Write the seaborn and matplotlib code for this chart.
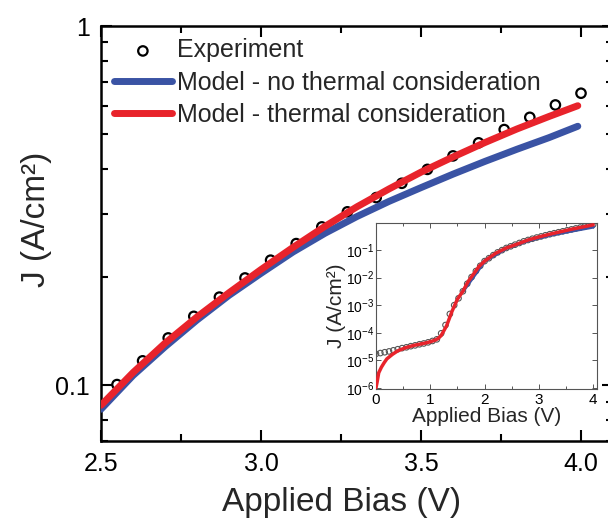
import numpy as np
import pandas as pd
import matplotlib
matplotlib.use('Agg')
import matplotlib.pyplot as plt
import seaborn as sns
from matplotlib.ticker import MultipleLocator, LogLocator, NullFormatter, FixedLocator, FixedFormatter

# main panel: measured points (every 0.08 V)
exp_v = [2.55, 2.63, 2.71, 2.79, 2.87, 2.95, 3.03, 3.11, 3.19, 3.27,
         3.36, 3.44, 3.52, 3.60, 3.68, 3.76, 3.84, 3.92, 4.00]
exp_j = [0.1005, 0.117, 0.1355, 0.1556, 0.176, 0.199, 0.223, 0.248, 0.276, 0.304,
         0.333, 0.365, 0.399, 0.435, 0.473, 0.515, 0.557, 0.603, 0.650]

# main panel: model curves
model_v = [2.5, 2.6, 2.7, 2.8, 2.9, 3.0, 3.1, 3.2, 3.3, 3.4, 3.5, 3.6, 3.7, 3.8, 3.9, 3.99]
model_thermal = [0.088, 0.1085, 0.131, 0.155, 0.181, 0.210, 0.242, 0.277, 0.314, 0.352,
                 0.392, 0.432, 0.474, 0.517, 0.560, 0.600]
model_nothermal = [0.0858, 0.1065, 0.128, 0.152, 0.178, 0.205, 0.235, 0.265, 0.295, 0.325,
                   0.355, 0.387, 0.420, 0.454, 0.489, 0.526]

# inset: full range measurement
inset_exp_v = [0.00, 0.08, 0.16, 0.24, 0.32, 0.40, 0.48, 0.56, 0.64, 0.72,
               0.80, 0.88, 0.96, 1.04, 1.12, 1.20, 1.28, 1.36, 1.44, 1.52,
               1.60, 1.68, 1.76, 1.84, 1.92, 2.00, 2.08, 2.16, 2.24, 2.32,
               2.40, 2.48, 2.56, 2.64, 2.72, 2.80, 2.88, 2.96, 3.04, 3.12,
               3.20, 3.28, 3.36, 3.44, 3.52, 3.60, 3.68, 3.76, 3.84, 3.92, 4.00]
inset_exp_j = [1.70e-5, 1.82e-5, 1.95e-5, 2.09e-5, 2.29e-5, 2.51e-5, 2.75e-5, 2.95e-5, 3.24e-5, 3.47e-5,
               3.80e-5, 4.07e-5, 4.47e-5, 5.01e-5, 5.75e-5, 9.5e-5, 1.9e-4, 4.8e-4, 1.0e-3, 1.78e-3,
               3.2e-3, 6.0e-3, 1.05e-2, 1.74e-2, 2.7e-2, 4.0e-2, 5.1e-2, 6.6e-2, 8.3e-2, 0.100,
               0.120, 0.138, 0.158, 0.182, 0.209, 0.234, 0.260, 0.288, 0.316, 0.347,
               0.380, 0.412, 0.447, 0.484, 0.525, 0.569, 0.617, 0.661, 0.716, 0.776, 0.851]

inset_red_v = [0.0, 0.02, 0.05, 0.1, 0.15, 0.2, 0.3, 0.4, 0.55, 0.7, 0.9, 1.0, 1.1, 1.15,
               1.2, 1.3, 1.4, 1.5, 1.6, 1.7, 1.8, 1.9, 2.0, 2.2, 2.4, 2.6, 2.8, 3.0, 3.2,
               3.4, 3.6, 3.8, 4.0]
inset_red_j = [1.0e-6, 1.6e-6, 3.5e-6, 5.6e-6, 8.1e-6, 1.12e-5, 1.62e-5, 2.19e-5, 2.88e-5, 3.47e-5,
               4.17e-5, 4.68e-5, 5.5e-5, 6.3e-5, 7.9e-5, 1.78e-4, 6.0e-4, 1.66e-3, 3.2e-3, 7.4e-3,
               1.38e-2, 2.6e-2, 4.0e-2, 7.6e-2, 0.120, 0.166, 0.234, 0.302, 0.380, 0.468,
               0.575, 0.692, 0.832]

inset_blue_v = [1.6, 2.0, 2.4, 2.8, 3.2, 3.6, 4.0]
inset_blue_j = [3.2e-3, 4.0e-2, 0.118, 0.225, 0.352, 0.50, 0.70]

blue = '#3a53a4'
red = '#e8232b'

sns.set_style('ticks')
plt.rcParams['font.family'] = ['Liberation Sans', 'DejaVu Sans']
plt.rcParams['mathtext.default'] = 'regular'

fig = plt.figure(figsize=(6.08, 5.22), dpi=100)
ax = fig.add_axes([101/608, 81/522, 512/608, 415/522])

sns.scatterplot(x=exp_v, y=exp_j, ax=ax, marker='o', s=46, facecolor='none',
                edgecolor='black', linewidth=1.6, label='Experiment', zorder=2)
sns.lineplot(x=model_v, y=model_nothermal, ax=ax, color=blue, linewidth=5,
             label='Model - no thermal consideration', zorder=3)
sns.lineplot(x=model_v, y=model_thermal, ax=ax, color=red, linewidth=5,
             label='Model - thermal consideration', zorder=4)

ax.set_yscale('log')
ax.set_xlim(2.5, 4.1)
ax.set_ylim(0.07, 1)
ax.xaxis.set_major_locator(FixedLocator([2.5, 3.0, 3.5, 4.0]))
ax.xaxis.set_major_formatter(FixedFormatter(['2.5', '3.0', '3.5', '4.0']))
ax.xaxis.set_minor_locator(MultipleLocator(0.25))
ax.yaxis.set_major_locator(FixedLocator([0.1, 1]))
ax.yaxis.set_major_formatter(FixedFormatter(['0.1', '1']))
ax.yaxis.set_minor_locator(LogLocator(subs=np.arange(2, 10)))
ax.yaxis.set_minor_formatter(NullFormatter())
ax.tick_params(which='both', direction='in', top=True, right=True, width=1.5,
               labelsize=18, pad=8, colors='black')
ax.tick_params(which='major', length=8)
ax.tick_params(which='minor', length=5)
for sp in ax.spines.values():
    sp.set_linewidth(1.8)
    sp.set_color('black')

ax.set_xlabel('Applied Bias (V)', fontsize=24)
ax.set_ylabel('J (A/cm²)', fontsize=24)
ax.xaxis.set_label_coords(0.47, -0.112)
ax.yaxis.set_label_coords(-0.096, 0.533)

leg = ax.legend(loc='upper left', frameon=False, fontsize=18, handlelength=2.35,
                handletextpad=0.2, labelspacing=0.32, borderaxespad=0.4,
                borderpad=0.1)

# inset
ins = fig.add_axes([376/608, 133/522, 221/608, 166/522])
ins.set_facecolor('white')
ins.set_zorder(5)
sns.scatterplot(x=inset_exp_v, y=inset_exp_j, ax=ins, marker='o', s=16, facecolor='none',
                edgecolor='#555555', linewidth=0.8, legend=False, zorder=2)
sns.lineplot(x=inset_blue_v, y=inset_blue_j, ax=ins, color=blue, linewidth=2.5,
             legend=False, zorder=3)
sns.lineplot(x=inset_red_v, y=inset_red_j, ax=ins, color=red, linewidth=2.5,
             legend=False, zorder=4)
ins.set_yscale('log')
ins.set_xlim(0, 4.07)
ins.set_ylim(9e-7, 0.97)
ins.xaxis.set_major_locator(FixedLocator([0, 1, 2, 3, 4]))
ins.xaxis.set_major_formatter(FixedFormatter(['0', '1', '2', '3', '4']))
ins.xaxis.set_minor_locator(MultipleLocator(0.5))
ins.yaxis.set_major_locator(FixedLocator([1e-6, 1e-5, 1e-4, 1e-3, 1e-2, 1e-1]))
ins.yaxis.set_major_formatter(FixedFormatter(['$10^{-6}$', '$10^{-5}$', '$10^{-4}$',
                                              '$10^{-3}$', '$10^{-2}$', '$10^{-1}$']))
ins.yaxis.set_minor_locator(LogLocator(subs=np.arange(2, 10)))
ins.yaxis.set_minor_formatter(NullFormatter())
ins.tick_params(which='both', direction='in', top=True, right=True, width=0.7,
                colors='#555555', labelcolor='black', pad=1.5)
ins.tick_params(axis='x', labelsize=11, pad=3)
ins.tick_params(axis='y', labelsize=10)
ins.tick_params(which='major', length=3.5)
ins.tick_params(which='minor', length=2)
for sp in ins.spines.values():
    sp.set_linewidth(0.8)
    sp.set_color('#555555')
ins.set_xlabel('Applied Bias (V)', fontsize=15, labelpad=0)
ins.set_ylabel('J (A/cm²)', fontsize=15, labelpad=0)

fig.savefig('out.png', dpi=100)
